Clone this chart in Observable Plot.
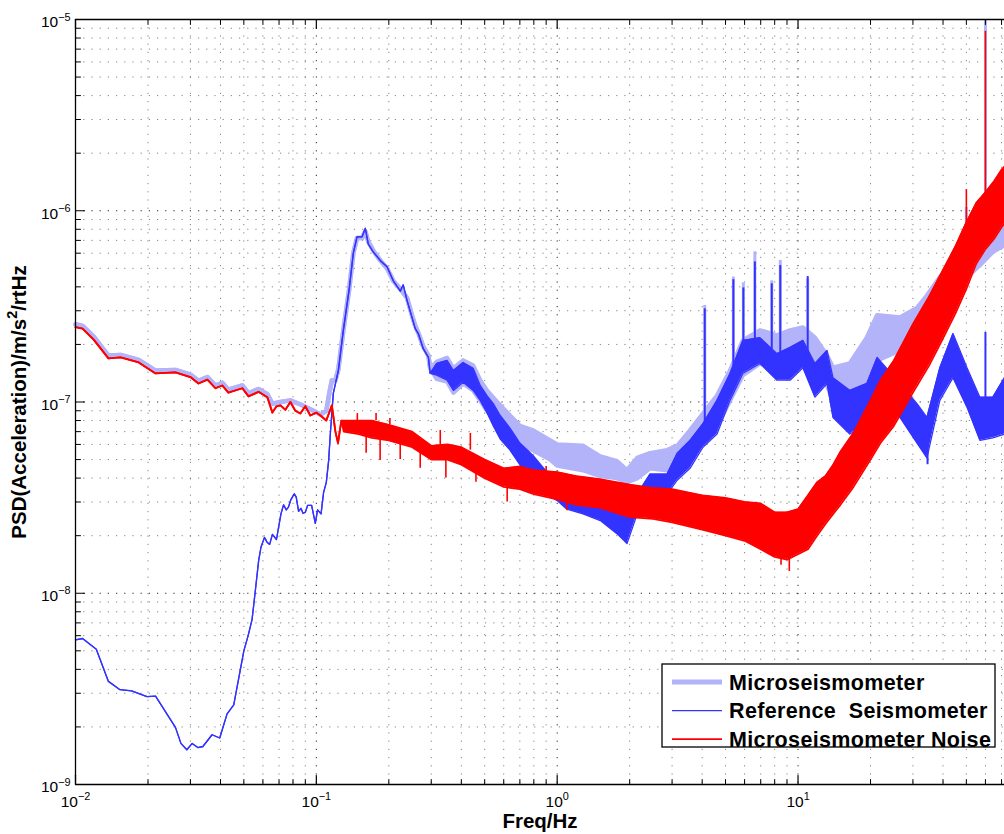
<!DOCTYPE html>
<html>
<head>
<meta charset="utf-8">
<script src="https://cdn.jsdelivr.net/npm/d3@7"></script>
<script src="https://cdn.jsdelivr.net/npm/@observablehq/plot@0.6"></script>
<style>
  html, body { margin: 0; padding: 0; background: #fff; }
  #chart { width: 1004px; height: 834px; overflow: hidden; }
</style>
</head>
<body>
<div id="chart"></div>
<script>
// ---- axis / tick definitions ----
const xDomain = [0.01, 72];
const yDomain = [1e-9, 1e-5];
const xMajorTicks = [0.01, 0.1, 1, 10];
const xTickLabels = ["10^{-2}", "10^{-1}", "10^{0}", "10^{1}"];
const yMajorTicks = [1e-9, 1e-8, 1e-7, 1e-6, 1e-5];
const yTickLabels = ["10^{-9}", "10^{-8}", "10^{-7}", "10^{-6}", "10^{-5}"];
const xLabel = "Freq/Hz";
const yLabel = "PSD(Acceleration)/m/s^{2}/rtHz";
const seriesNames = ["Microseismometer", "Reference  Seismometer", "Microseismometer Noise"];
const seriesColors = ["#b3b3fa", "#3333ff", "#ff0000"];

// ---- data: [frequency Hz, lower envelope, upper envelope] ----
const microseismometer = [
  [0.01, 2.55e-7, 2.55e-7], [0.0107, 2.5e-7, 2.5e-7], [0.0119, 2.2e-7, 2.2e-7], [0.0137, 1.75e-7, 1.75e-7],
  [0.0154, 1.76e-7, 1.76e-7], [0.0183, 1.66e-7, 1.66e-7], [0.0215, 1.46e-7, 1.46e-7], [0.026, 1.47e-7, 1.47e-7],
  [0.030, 1.39e-7, 1.39e-7], [0.0324, 1.29e-7, 1.29e-7], [0.0353, 1.35e-7, 1.35e-7], [0.0381, 1.22e-7, 1.22e-7],
  [0.0407, 1.26e-7, 1.26e-7], [0.0431, 1.16e-7, 1.16e-7], [0.0493, 1.22e-7, 1.22e-7], [0.0523, 1.11e-7, 1.11e-7],
  [0.0575, 1.17e-7, 1.17e-7], [0.0626, 1.10e-7, 1.10e-7], [0.0657, 9.8e-8, 9.8e-8], [0.071, 1.0e-7, 1.0e-7],
  [0.078, 1.02e-7, 1.02e-7], [0.086, 9.7e-8, 9.7e-8], [0.094, 9.2e-8, 9.2e-8], [0.104, 8.6e-8, 8.6e-8],
  [0.11, 9.0e-8, 9.0e-8], [0.113, 1.1e-7, 1.1e-7], [0.116, 1.3e-7, 1.3e-7], [0.12, 1.3e-7, 1.3e-7],
  [0.1234, 1.48e-7, 1.48e-7], [0.1294, 2.36e-7, 2.36e-7], [0.137, 3.92e-7, 3.92e-7], [0.1424, 6.0e-7, 6.0e-7],
  [0.1475, 7.2e-7, 7.2e-7], [0.1548, 7.2e-7, 7.2e-7], [0.1597, 7.8e-7, 7.8e-7], [0.1643, 6.9e-7, 6.9e-7],
  [0.1723, 6.2e-7, 6.2e-7], [0.1842, 5.5e-7, 5.5e-7], [0.1965, 5.0e-7, 5.0e-7], [0.2087, 4.3e-7, 4.3e-7],
  [0.2232, 3.9e-7, 3.9e-7], [0.238, 3.5e-7, 3.5e-7], [0.2494, 2.85e-7, 2.85e-7], [0.2575, 2.5e-7, 2.5e-7],
  [0.265, 2.3e-7, 2.3e-7], [0.278, 1.95e-7, 1.95e-7], [0.292, 1.75e-7, 1.75e-7], [0.297, 1.5e-7, 1.5e-7],
  [0.316, 1.32e-7, 1.62e-7], [0.349, 1.28e-7, 1.70e-7], [0.371, 1.12e-7, 1.5e-7], [0.407, 1.25e-7, 1.65e-7],
  [0.448, 1.15e-7, 1.55e-7], [0.479, 1.02e-7, 1.3e-7], [0.511, 9.0e-8, 1.15e-7], [0.58, 7.5e-8, 9.6e-8],
  [0.637, 6.3e-8, 8.5e-8], [0.70, 5.9e-8, 7.5e-8], [0.794, 5.6e-8, 7.1e-8], [0.936, 5.0e-8, 6.3e-8],
  [1.0, 4.65e-8, 6.0e-8], [1.28, 4.4e-8, 5.9e-8], [1.51, 4.1e-8, 5.2e-8], [1.77, 4.0e-8, 4.9e-8],
  [1.95, 3.8e-8, 4.4e-8], [2.15, 4.0e-8, 5.1e-8], [2.43, 4.5e-8, 5.4e-8], [2.86, 4.4e-8, 5.6e-8],
  [3.15, 4.4e-8, 5.9e-8], [3.56, 5.25e-8, 7.1e-8], [4.03, 6.5e-8, 8.7e-8], [4.61, 7.5e-8, 1.08e-7],
  [5.22, 1.02e-7, 1.46e-7], [5.90, 1.38e-7, 2.1e-7], [6.95, 1.59e-7, 2.37e-7], [8.18, 1.46e-7, 2.23e-7],
  [9.27, 1.51e-7, 2.37e-7], [10.48, 1.65e-7, 2.45e-7], [11.76, 1.41e-7, 2.17e-7], [13.2, 1.22e-7, 1.75e-7],
  [13.97, 1.02e-7, 1.51e-7], [16.4, 1.06e-7, 1.59e-7], [19.3, 1.25e-7, 2.17e-7], [21.3, 1.65e-7, 2.84e-7],
  [26.5, 1.86e-7, 2.77e-7], [31.2, 2.1e-7, 3.1e-7], [34.3, 2.36e-7, 3.6e-7], [38.8, 3.0e-7, 4.5e-7],
  [44.0, 3.7e-7, 5.3e-7], [50.3, 4.5e-7, 6.4e-7], [56.9, 5.2e-7, 7.7e-7], [64.4, 6.1e-7, 8.7e-7],
  [72, 6.6e-7, 9.7e-7]
];
// spikes: [frequency, base, peak]
const microseismometerSpikes = [
  [4.1, 8e-8, 3.2e-7], [5.39, 1.4e-7, 4.5e-7], [5.93, 1.9e-7, 4.2e-7], [6.62, 2.1e-7, 6.1e-7],
  [7.78, 2.0e-7, 4.3e-7], [8.44, 2.1e-7, 5.5e-7], [10.97, 2.2e-7, 4.4e-7], [50, 6.5e-7, 1.04e-6],
  [60, 8.0e-7, 1e-5]
];

const referenceSeismometer = [
  [0.01, 5.7e-9, 5.7e-9], [0.0107, 5.8e-9, 5.8e-9], [0.0122, 5.1e-9, 5.1e-9], [0.0137, 3.46e-9, 3.46e-9],
  [0.0153, 3.13e-9, 3.13e-9], [0.0171, 3.09e-9, 3.09e-9], [0.0198, 2.88e-9, 2.88e-9], [0.0215, 2.9e-9, 2.9e-9],
  [0.026, 1.99e-9, 1.99e-9], [0.0274, 1.64e-9, 1.64e-9], [0.029, 1.52e-9, 1.52e-9], [0.0305, 1.64e-9, 1.64e-9],
  [0.0322, 1.56e-9, 1.56e-9], [0.0338, 1.58e-9, 1.58e-9], [0.0369, 1.82e-9, 1.82e-9], [0.0397, 1.75e-9, 1.75e-9],
  [0.0426, 2.34e-9, 2.34e-9], [0.0454, 2.61e-9, 2.61e-9], [0.05, 5.0e-9, 5.0e-9], [0.0521, 6.0e-9, 6.0e-9],
  [0.0541, 7.3e-9, 7.3e-9], [0.0558, 1.03e-8, 1.03e-8], [0.0576, 1.48e-8, 1.48e-8], [0.0589, 1.74e-8, 1.74e-8],
  [0.0609, 1.96e-8, 1.96e-8], [0.0624, 1.85e-8, 1.85e-8], [0.064, 1.80e-8, 1.80e-8], [0.0657, 2.03e-8, 2.03e-8],
  [0.0683, 1.91e-8, 1.91e-8], [0.0697, 2.21e-8, 2.21e-8], [0.0713, 2.60e-8, 2.60e-8], [0.0731, 2.90e-8, 2.90e-8],
  [0.075, 2.73e-8, 2.73e-8], [0.0766, 2.82e-8, 2.82e-8], [0.0784, 3.09e-8, 3.09e-8], [0.081, 3.31e-8, 3.31e-8],
  [0.0825, 3.18e-8, 3.18e-8], [0.0844, 2.68e-8, 2.68e-8], [0.0863, 2.78e-8, 2.78e-8], [0.088, 2.62e-8, 2.62e-8],
  [0.09, 2.65e-8, 2.65e-8], [0.092, 2.88e-8, 2.88e-8], [0.0956, 2.88e-8, 2.88e-8], [0.099, 2.32e-8, 2.32e-8],
  [0.1012, 2.73e-8, 2.73e-8], [0.1046, 2.60e-8, 2.60e-8], [0.1072, 3.37e-8, 3.37e-8], [0.11, 3.80e-8, 3.80e-8],
  [0.1125, 4.95e-8, 4.95e-8], [0.1143, 6.8e-8, 6.8e-8], [0.1176, 1.11e-7, 1.11e-7], [0.1234, 1.46e-7, 1.46e-7],
  [0.1294, 2.36e-7, 2.36e-7], [0.137, 3.92e-7, 3.92e-7], [0.1424, 6.0e-7, 6.0e-7], [0.1475, 7.3e-7, 7.3e-7],
  [0.1548, 7.3e-7, 7.3e-7], [0.1597, 8.1e-7, 8.1e-7], [0.1643, 6.7e-7, 6.7e-7], [0.1723, 6.1e-7, 6.1e-7],
  [0.1842, 5.5e-7, 5.5e-7], [0.1965, 5.1e-7, 5.1e-7], [0.2087, 4.3e-7, 4.3e-7], [0.2232, 3.8e-7, 3.8e-7],
  [0.2295, 4.1e-7, 4.1e-7], [0.238, 3.4e-7, 3.4e-7], [0.2494, 2.78e-7, 2.78e-7], [0.2575, 2.42e-7, 2.42e-7],
  [0.265, 2.28e-7, 2.28e-7], [0.278, 1.90e-7, 1.90e-7], [0.292, 1.71e-7, 1.71e-7], [0.297, 1.41e-7, 1.41e-7],
  [0.316, 1.38e-7, 1.59e-7], [0.349, 1.30e-7, 1.65e-7], [0.371, 1.15e-7, 1.46e-7], [0.407, 1.27e-7, 1.61e-7],
  [0.448, 1.15e-7, 1.50e-7], [0.479, 1.02e-7, 1.22e-7], [0.511, 8.8e-8, 1.08e-7], [0.543, 7.5e-8, 9.8e-8],
  [0.58, 6.4e-8, 8.5e-8], [0.637, 5.6e-8, 7.3e-8], [0.70, 4.7e-8, 6.1e-8], [0.794, 4.0e-8, 5.25e-8],
  [0.936, 3.2e-8, 4.1e-8], [1.0, 3.05e-8, 4.0e-8], [1.097, 2.75e-8, 3.6e-8], [1.28, 2.6e-8, 3.4e-8],
  [1.51, 2.4e-8, 3.3e-8], [1.77, 2.05e-8, 2.8e-8], [1.95, 1.82e-8, 2.6e-8], [2.15, 2.6e-8, 3.3e-8],
  [2.43, 3.3e-8, 4.2e-8], [2.86, 3.3e-8, 4.2e-8], [3.15, 3.9e-8, 5.4e-8], [3.56, 4.5e-8, 6.3e-8],
  [4.03, 5.8e-8, 7.7e-8], [4.61, 6.8e-8, 1.02e-7], [5.22, 1.02e-7, 1.41e-7], [5.90, 1.41e-7, 2.1e-7],
  [6.95, 1.59e-7, 2.17e-7], [8.18, 1.30e-7, 1.79e-7], [9.27, 1.30e-7, 1.93e-7], [10.48, 1.51e-7, 2.1e-7],
  [11.76, 1.06e-7, 1.59e-7], [13.2, 1.25e-7, 1.86e-7], [13.97, 8.3e-8, 1.34e-7], [16.4, 6.8e-8, 1.15e-7],
  [19.3, 7.7e-8, 1.25e-7], [21.3, 1.15e-7, 1.71e-7], [26.5, 8.3e-8, 1.25e-7], [31.2, 6.1e-8, 9.8e-8],
  [34.3, 5.1e-8, 8.3e-8], [38.8, 1.02e-7, 1.51e-7], [44.0, 1.34e-7, 2.28e-7], [50.3, 9.4e-8, 1.51e-7],
  [56.9, 6.3e-8, 1.06e-7], [64.4, 6.5e-8, 1.06e-7], [72, 6.8e-8, 1.34e-7]
];
const referenceSpikes = [
  [4.1, 7e-8, 3.07e-7], [5.39, 1.3e-7, 4.36e-7], [5.93, 1.8e-7, 3.95e-7], [6.62, 1.9e-7, 5.4e-7],
  [7.78, 1.7e-7, 4.15e-7], [8.44, 1.7e-7, 5.17e-7], [10.97, 1.7e-7, 4.53e-7], [60, 9e-8, 2.31e-7],
  [34.5, 4.7e-8, 7e-8]
];

const microseismometerNoise = [
  [0.01, 2.46e-7, 2.46e-7], [0.0107, 2.42e-7, 2.42e-7], [0.0119, 2.12e-7, 2.12e-7], [0.0137, 1.69e-7, 1.69e-7],
  [0.0154, 1.71e-7, 1.71e-7], [0.0183, 1.61e-7, 1.61e-7], [0.0215, 1.41e-7, 1.41e-7], [0.026, 1.43e-7, 1.43e-7],
  [0.030, 1.35e-7, 1.35e-7], [0.0324, 1.25e-7, 1.25e-7], [0.0353, 1.31e-7, 1.31e-7], [0.0381, 1.18e-7, 1.18e-7],
  [0.0407, 1.22e-7, 1.22e-7], [0.0431, 1.12e-7, 1.12e-7], [0.0493, 1.18e-7, 1.18e-7], [0.0523, 1.07e-7, 1.07e-7],
  [0.0575, 1.13e-7, 1.13e-7], [0.0626, 1.06e-7, 1.06e-7], [0.0657, 8.8e-8, 8.8e-8], [0.0683, 9.5e-8, 9.5e-8],
  [0.071, 9.6e-8, 9.6e-8], [0.0744, 9.1e-8, 9.1e-8], [0.078, 1.0e-7, 1.0e-7], [0.0818, 9.0e-8, 9.0e-8],
  [0.0858, 8.7e-8, 8.7e-8], [0.090, 9.5e-8, 9.5e-8], [0.0944, 8.5e-8, 8.5e-8], [0.1, 8.8e-8, 8.8e-8],
  [0.104, 8.5e-8, 8.5e-8], [0.11, 8.0e-8, 8.0e-8], [0.116, 9.6e-8, 9.6e-8], [0.12, 7.0e-8, 7.0e-8],
  [0.123, 6.1e-8, 6.1e-8], [0.127, 8.0e-8, 8.0e-8],
  [0.13, 7.0e-8, 8.0e-8], [0.15, 6.8e-8, 8.0e-8], [0.17, 6.5e-8, 8.0e-8], [0.2, 6.3e-8, 7.6e-8],
  [0.25, 5.8e-8, 7.0e-8], [0.3, 5.0e-8, 5.9e-8], [0.35, 5.0e-8, 6.0e-8], [0.4, 4.7e-8, 5.8e-8],
  [0.5, 4.0e-8, 5.0e-8], [0.6, 3.6e-8, 4.5e-8], [0.7, 3.5e-8, 4.6e-8], [0.8, 3.3e-8, 4.4e-8],
  [1.0, 3.1e-8, 4.3e-8], [1.2, 2.9e-8, 4.1e-8], [1.5, 2.8e-8, 3.95e-8], [2, 2.5e-8, 3.7e-8],
  [2.5, 2.45e-8, 3.55e-8], [3, 2.35e-8, 3.5e-8], [4, 2.15e-8, 3.25e-8], [5, 2.0e-8, 3.15e-8],
  [6, 1.88e-8, 3.0e-8], [7, 1.7e-8, 2.95e-8], [8, 1.55e-8, 2.65e-8], [9, 1.5e-8, 2.65e-8],
  [10, 1.6e-8, 2.75e-8], [11, 1.7e-8, 3.25e-8], [12, 2.0e-8, 3.8e-8], [13, 2.3e-8, 4.1e-8],
  [14, 2.6e-8, 4.7e-8], [15, 2.9e-8, 5.5e-8], [17, 3.6e-8, 6.9e-8], [20, 5.0e-8, 1.02e-7],
  [22, 6.1e-8, 1.3e-7], [25, 7.5e-8, 1.65e-7], [30, 1.12e-7, 2.55e-7], [35, 1.55e-7, 3.55e-7],
  [40, 2.15e-7, 4.9e-7], [45, 2.9e-7, 6.5e-7], [50, 3.9e-7, 8.7e-7], [55, 5.3e-7, 1.1e-6],
  [60, 6.3e-7, 1.25e-6], [65, 7.1e-7, 1.42e-6], [70, 8.2e-7, 1.64e-6], [72, 8.6e-7, 1.7e-6]
];
const noiseSpikes = [
  [0.148, 8.0e-8, 8.7e-8], [0.161, 6.8e-8, 5.4e-8], [0.177, 8.0e-8, 8.7e-8], [0.184, 6.5e-8, 4.95e-8],
  [0.202, 7.6e-8, 8.2e-8], [0.223, 6.2e-8, 5.0e-8], [0.27, 5.5e-8, 4.5e-8], [0.327, 5.9e-8, 7.1e-8],
  [0.345, 5.0e-8, 4.0e-8], [0.436, 5.6e-8, 6.85e-8], [0.46, 4.5e-8, 3.8e-8], [0.62, 3.7e-8, 3.0e-8],
  [0.9, 4.1e-8, 4.6e-8], [1.1, 3.1e-8, 2.7e-8],
  [50, 7.0e-7, 1.29e-6], [60, 9.0e-7, 8.67e-6], [9.2, 1.3e-8, 1.6e-8], [8.5, 1.4e-8, 1.6e-8]
];

// ---- build tables ----
const toRows = (arr) => arr.map(([f, lo, hi]) => ({f, lo, hi}));
const toSpikes = (arr) => arr.map(([f, base, top]) => ({f, base, top}));
const series = [
  {rows: toRows(microseismometer), spikes: toSpikes(microseismometerSpikes), color: seriesColors[0], w: 4.5, sw: 3},
  {rows: toRows(referenceSeismometer), spikes: toSpikes(referenceSpikes), color: seriesColors[1], w: 1.3, sw: 2},
  {rows: toRows(microseismometerNoise), spikes: toSpikes(noiseSpikes), color: seriesColors[2], w: 1.8, sw: 1.6}
];

// minor ticks (2..9 per decade)
const xMinorTicks = [];
for (const d of xMajorTicks) for (let k = 2; k <= 9; k++) { const v = +(k * d).toPrecision(3); if (v <= xDomain[1]) xMinorTicks.push(v); }
const yMinorTicks = [];
for (const d of yMajorTicks.slice(0, -1)) for (let k = 2; k <= 9; k++) yMinorTicks.push(+(k * d).toPrecision(3));

const tickShape = {draw(ctx, l) { ctx.moveTo(0, 0); ctx.lineTo(0, -l); }};

const marks = [
  // grid
  Plot.ruleX(xMinorTicks, {x: d => d, stroke: "#444", strokeOpacity: 0.65, strokeDasharray: "1.2,7"}),
  Plot.ruleY(yMinorTicks, {y: d => d, stroke: "#444", strokeOpacity: 0.65, strokeDasharray: "1.2,7"}),
  Plot.ruleX(xMajorTicks, {x: d => d, stroke: "#000", strokeOpacity: 0.85, strokeDasharray: "1.2,7"}),
  Plot.ruleY(yMajorTicks, {y: d => d, stroke: "#000", strokeOpacity: 0.85, strokeDasharray: "1.2,7"})
];
for (const s of series) {
  marks.push(
    Plot.areaY(s.rows, {x: "f", y1: "lo", y2: "hi", fill: s.color, curve: "linear"}),
    Plot.line(s.rows, {x: "f", y: "lo", stroke: s.color, strokeWidth: s.w, strokeLinejoin: "round"}),
    Plot.line(s.rows, {x: "f", y: "hi", stroke: s.color, strokeWidth: s.w, strokeLinejoin: "round"}),
    Plot.ruleX(s.spikes, {x: "f", y1: "base", y2: "top", stroke: s.color, strokeWidth: s.sw})
  );
}
marks.push(
  // frame lines (top, bottom, left)
  Plot.ruleY([yDomain[0], yDomain[1]], {y: d => d, stroke: "#000", strokeWidth: 1.3}),
  Plot.ruleX([xDomain[0]], {x: d => d, stroke: "#000", strokeWidth: 1.3}),
  // inward ticks
  Plot.vectorX(xMajorTicks, {x: d => d, frameAnchor: "bottom", anchor: "start", rotate: 0, length: 9, shape: tickShape, stroke: "#000", strokeWidth: 1.2}),
  Plot.vectorX(xMinorTicks, {x: d => d, frameAnchor: "bottom", anchor: "start", rotate: 0, length: 5, shape: tickShape, stroke: "#000", strokeWidth: 1}),
  Plot.vectorX(xMajorTicks, {x: d => d, frameAnchor: "top", anchor: "start", rotate: 180, length: 9, shape: tickShape, stroke: "#000", strokeWidth: 1.2}),
  Plot.vectorX(xMinorTicks, {x: d => d, frameAnchor: "top", anchor: "start", rotate: 180, length: 5, shape: tickShape, stroke: "#000", strokeWidth: 1}),
  Plot.vectorY(yMajorTicks, {y: d => d, frameAnchor: "left", anchor: "start", rotate: 90, length: 9, shape: tickShape, stroke: "#000", strokeWidth: 1.2}),
  Plot.vectorY(yMinorTicks, {y: d => d, frameAnchor: "left", anchor: "start", rotate: 90, length: 5, shape: tickShape, stroke: "#000", strokeWidth: 1}),
  // tick labels
  Plot.text(xMajorTicks, {x: d => d, frameAnchor: "bottom", text: (d, i) => xTickLabels[i], textAnchor: "middle", dy: 22, fontSize: 15.5, fill: "#000"}),
  Plot.text(yMajorTicks, {y: d => d, frameAnchor: "left", text: (d, i) => yTickLabels[i], textAnchor: "end", dx: -5, dy: 3, fontSize: 15.5, fill: "#000"}),
  // axis titles
  Plot.text([xLabel], {text: d => d, frameAnchor: "bottom", textAnchor: "middle", dy: 43, fontSize: 20.5, fontWeight: "bold", fill: "#000"}),
  Plot.text([yLabel], {text: d => d, frameAnchor: "left", textAnchor: "middle", rotate: -90, dx: -56, fontSize: 20.5, fontWeight: "bold", fill: "#000"})
);

const svg = Plot.plot({
  width: 1004,
  height: 834,
  marginLeft: 75,
  marginRight: 0,
  marginTop: 19,
  marginBottom: 50,
  x: {type: "log", domain: xDomain, axis: null},
  y: {type: "log", domain: yDomain, axis: null},
  style: {fontFamily: "'Liberation Sans', Arial, Helvetica, sans-serif", background: "#fff", color: "#000"},
  marks
});

// superscripts: turn "a^{b}c" into tspans
d3.select(svg).selectAll("text").each(function () {
  const s = this.textContent;
  if (!s.includes("^{")) return;
  const parts = s.split(/\^\{([^}]*)\}/);
  this.textContent = "";
  const sel = d3.select(this);
  parts.forEach((p, j) => {
    if (j % 2 === 1) {
      sel.append("tspan").attr("font-size", "70%").attr("dy", "-0.62em").text(p.replace("-", "\u2212"));
    } else if (p) {
      const t = sel.append("tspan").text(p);
      if (j > 0) t.attr("dy", "0.434em");
    }
  });
});

// legend
const lg = d3.select(svg).append("g")
  .attr("font-family", "'Liberation Sans', Arial, Helvetica, sans-serif")
  .attr("text-anchor", "start");
lg.append("rect").attr("x", 662).attr("y", 664).attr("width", 333).attr("height", 83)
  .attr("fill", "#fff").attr("stroke", "#000").attr("stroke-width", 1.3);
const legendWidths = [5, 1.3, 1.8];
seriesNames.forEach((name, i) => {
  const y = 682 + i * 28.6;
  lg.append("line").attr("x1", 672).attr("x2", 722).attr("y1", y).attr("y2", y)
    .attr("stroke", seriesColors[i]).attr("stroke-width", legendWidths[i]);
  lg.append("text").attr("x", 729).attr("y", y).attr("dy", "0.36em").attr("text-anchor", "start")
    .attr("font-size", 21.5).attr("font-weight", "bold").attr("letter-spacing", "0.35px")
    .style("white-space", "pre").attr("fill", "#000").text(name);
});

document.getElementById("chart").appendChild(svg);
</script>
</body>
</html>
